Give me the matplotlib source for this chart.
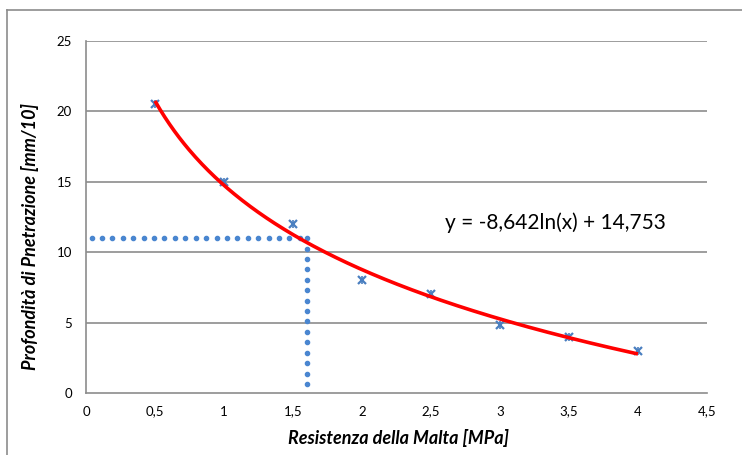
import numpy as np
import matplotlib
matplotlib.use("Agg")
import matplotlib.pyplot as plt
from matplotlib.lines import Line2D

plt.rcParams['font.family'] = ['Lato', 'DejaVu Sans']

# Measured data
resistenza = [0.5, 1.0, 1.5, 2.0, 2.5, 3.0, 3.5, 4.0]
profondita = [20.5, 15.0, 12.0, 8.0, 7.0, 4.8, 4.0, 3.0]

# Logarithmic fit coefficients
coef_a = -8.642
coef_b = 14.753

# Reading guide at a penetration of 11
guide_y = 11.0
guide_x = 1.6
guide_x_start = 0.04
guide_y_end = 0.4

xticks = [0, 0.5, 1, 1.5, 2, 2.5, 3, 3.5, 4, 4.5]
xtick_labels = ["0", "0,5", "1", "1,5", "2", "2,5", "3", "3,5", "4", "4,5"]
yticks = [0, 5, 10, 15, 20, 25]

W, H = 742, 455
fig = plt.figure(figsize=(W / 100, H / 100), dpi=100)
ax = fig.add_axes([86 / W, 1 - 393 / H, (707 - 86) / W, (393 - 41) / H])

# Outer chart frame
frame_col = "#8c8c8c"
fig.add_artist(Line2D([7 / W, 7 / W], [0, 1 - 10 / H], transform=fig.transFigure,
                      color=frame_col, lw=1.2))
fig.add_artist(Line2D([7 / W, 1], [1 - 10 / H, 1 - 10 / H], transform=fig.transFigure,
                      color=frame_col, lw=1.2))

ax.set_xlim(0, 4.5)
ax.set_ylim(0, 25)

grid_col = "#8c8c8c"
for yv in yticks[1:]:
    ax.axhline(yv, color=grid_col, lw=1.2, zorder=1)

for side in ["top", "right"]:
    ax.spines[side].set_visible(False)
for side in ["left", "bottom"]:
    ax.spines[side].set_color(grid_col)
    ax.spines[side].set_linewidth(1.2)

ax.set_xticks(xticks)
ax.set_xticklabels(xtick_labels)
ax.set_yticks(yticks)
ax.tick_params(axis="both", length=0, labelsize=9.5, colors="#000000")
ax.tick_params(axis="x", pad=9)
ax.tick_params(axis="y", pad=10)

# Dotted reading guides
dot_col = "#4a86d0"
xs_h = np.arange(guide_x_start, guide_x + 1e-9, 0.0755)
ax.plot(xs_h, np.full_like(xs_h, guide_y), linestyle="none", marker="o",
        markersize=3.0, color=dot_col, zorder=3)
ys_v = np.arange(guide_y, guide_y_end - 1e-9, -0.74)
ax.plot(np.full_like(ys_v, guide_x), ys_v, linestyle="none", marker="o",
        markersize=3.0, color=dot_col, zorder=3)

# Data points (star markers)
mk_col = "#4a7fc0"
ax.plot(resistenza, profondita, linestyle="none", marker="x", markersize=6,
        markeredgewidth=1.6, color=mk_col, zorder=4)
ax.plot(resistenza, profondita, linestyle="none", marker="|", markersize=6,
        markeredgewidth=1.2, color=mk_col, zorder=4)

# Logarithmic trendline
xf = np.linspace(min(resistenza), max(resistenza), 300)
yf = coef_a * np.log(xf) + coef_b
ax.plot(xf, yf, color="#ff0000", lw=2.6, zorder=5, solid_capstyle="butt")

eq = "y = {}ln(x) + {}".format(f"{coef_a:.3f}".replace(".", ","),
                                f"{coef_b:.3f}".replace(".", ","))
ax.text(2.6, 12.1, eq, fontsize=15, ha="left", va="center", color="#000000")

fig.text(398 / W, 1 - 438 / H, "Resistenza della Malta [MPa]", fontsize=13,
         fontweight="bold", fontstyle="italic", ha="center", va="center")
fig.text(30 / W, 1 - 237 / H, "Profondità di Pnetrazione [mm/10]", fontsize=13,
         fontweight="bold", fontstyle="italic", ha="center", va="center",
         rotation=90)

fig.savefig("out.png", dpi=100)
